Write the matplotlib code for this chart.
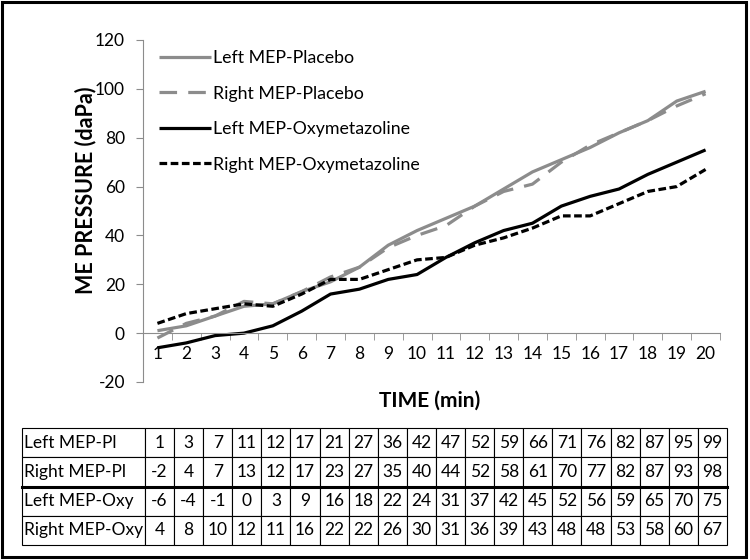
import matplotlib
matplotlib.use("Agg")
import matplotlib.pyplot as plt
from matplotlib.patches import Rectangle
from matplotlib.lines import Line2D
from matplotlib.ticker import FixedLocator, NullFormatter

plt.rcParams['font.family'] = ['Lato', 'DejaVu Sans']
plt.rcParams['axes.unicode_minus'] = False

time_min = list(range(1, 21))
left_pl = [1, 3, 7, 11, 12, 17, 21, 27, 36, 42, 47, 52, 59, 66, 71, 76, 82, 87, 95, 99]
right_pl = [-2, 4, 7, 13, 12, 17, 23, 27, 35, 40, 44, 52, 58, 61, 70, 77, 82, 87, 93, 98]
left_oxy = [-6, -4, -1, 0, 3, 9, 16, 18, 22, 24, 31, 37, 42, 45, 52, 56, 59, 65, 70, 75]
right_oxy = [4, 8, 10, 12, 11, 16, 22, 22, 26, 30, 31, 36, 39, 43, 48, 48, 53, 58, 60, 67]

legend_names = ["Left MEP-Placebo", "Right MEP-Placebo",
                "Left MEP-Oxymetazoline", "Right MEP-Oxymetazoline"]
table_labels = ["Left MEP-Pl", "Right MEP-Pl", "Left MEP-Oxy", "Right MEP-Oxy"]
y_ticks = [-20, 0, 20, 40, 60, 80, 100, 120]

W, H = 750, 560
fig = plt.figure(figsize=(7.5, 5.6), dpi=100)

def fx(px):
    return px / W

def fy(py):
    return 1 - py / H

ax = fig.add_axes([fx(143), fy(382), fx(720) - fx(143), fy(40) - fy(382)])

gray = '#8c8c8c'
ax.plot(time_min, left_pl, color=gray, lw=2.3, label=legend_names[0], solid_capstyle='butt')
ax.plot(time_min, right_pl, color=gray, lw=2.3, ls=(0, (5.5, 3.5)), label=legend_names[1])
ax.plot(time_min, left_oxy, color='black', lw=2.3, label=legend_names[2], solid_capstyle='butt')
ax.plot(time_min, right_oxy, color='black', lw=2.3, ls=(0, (2.4, 1.1)), label=legend_names[3])

ax.set_xlim(0.5, 20.5)
ax.set_ylim(-20, 120)
ax.set_yticks(y_ticks)
ax.set_xticks(time_min)
ax.set_xticklabels([str(t) for t in time_min])
ax.xaxis.set_minor_locator(FixedLocator([t + 0.5 for t in [0] + time_min]))
ax.xaxis.set_minor_formatter(NullFormatter())

for s in ['top', 'right']:
    ax.spines[s].set_visible(False)
ax.spines['bottom'].set_position(('data', 0))
ax.spines['bottom'].set_color('#8c8c8c')
ax.spines['left'].set_color('#8c8c8c')
ax.tick_params(axis='x', which='major', length=0, pad=9, labelsize=12.5)
ax.tick_params(axis='x', which='minor', length=5, color='#8c8c8c', direction='out')
ax.tick_params(axis='y', length=5, color='#8c8c8c', direction='out', pad=8, labelsize=12.5)

fig.text(fx(86), fy(190), "ME PRESSURE (daPa)", rotation=90, fontsize=15.5,
         fontweight='bold', ha='center', va='center')
fig.text(fx(430), fy(401), "TIME (min)", fontsize=15, fontweight='bold',
         ha='center', va='center')

leg = ax.legend(loc='upper left', bbox_to_anchor=(fx(159), fy(50)),
                bbox_transform=fig.transFigure,
                frameon=False, fontsize=12.8, handlelength=2.9, handletextpad=0.15,
                labelspacing=1.1, borderaxespad=0, borderpad=0)

# table
tax = fig.add_axes([0, 0, 1, 1])
tax.axis('off')
tax.set_xlim(0, 1)
tax.set_ylim(0, 1)
cell_text = [[lab] + [str(v) for v in row] for lab, row in
             zip(table_labels, [left_pl, right_pl, left_oxy, right_oxy])]
t_left, t_right, t_top, t_bot = 22, 727, 428, 545
tw = t_right - t_left
col_w = [123 / tw] + [(tw - 123) / 20 / tw] * 20
tab = tax.table(cellText=cell_text, colWidths=col_w, cellLoc='center',
                bbox=[fx(t_left), fy(t_bot), fx(tw), fy(t_top) - fy(t_bot)])
tab.auto_set_font_size(False)
tab.set_fontsize(12.5)
for (r, c), cell in tab.get_celld().items():
    cell.set_linewidth(0.8)
    cell.set_edgecolor('black')
    if c == 0:
        cell.set_text_props(ha='left')
        cell.PAD = 0.02
tax.add_line(Line2D([fx(t_left), fx(t_right)], [fy(486.5), fy(486.5)],
                    color='black', lw=2.2, transform=fig.transFigure))

fig.add_artist(Rectangle((fx(2), fy(557)), fx(744), fy(2) - fy(557), fill=False,
                         edgecolor='black', lw=2.2, transform=fig.transFigure))

fig.savefig('out.png', dpi=100)
